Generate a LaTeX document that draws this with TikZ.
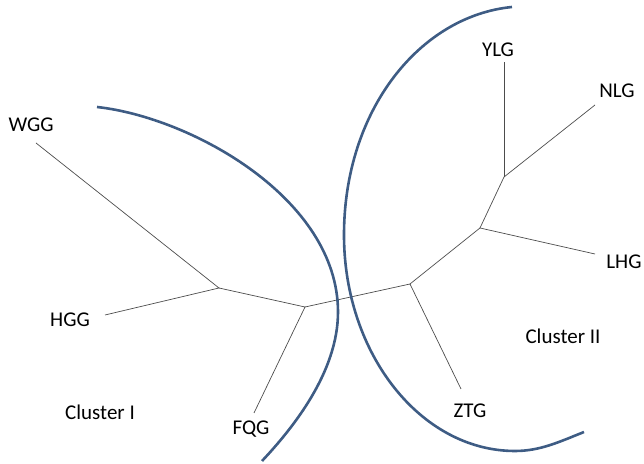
\documentclass[tikz,border=0pt]{standalone}
\usepackage{fontspec}
\setmainfont{Carlito}
\usepackage{xcolor}
\usetikzlibrary{positioning}
\definecolor{arcblue}{RGB}{62,92,132}
\tikzset{%
	branch/.style  = {draw=black!70, line width=0.35pt},
	cluster/.style = {draw=arcblue, line width=1.3pt},
	leaf/.style    = {anchor=base, inner sep=0pt, font=\fontsize{10.5}{12}\selectfont},
}

\begin{document}
\begin{tikzpicture}[x=0.5pt,y=-0.5pt]
	\useasboundingbox (0,0) rectangle (644,464);
	
	\coordinate (A) at (219,288);
	\coordinate (B) at (305,307);
	\coordinate (E) at (410,284);
	\coordinate (D) at (480,228);
	\coordinate (C) at (504,177);
	
	\foreach \n/\x/\y in {WGG/36/143,HGG/105/315,FQG/254/413,ZTG/461/389,LHG/595/254,NLG/595/105,YLG/504/62} \coordinate (\n-end) at (\x,\y);
	
	\foreach \n/\x/\y in {WGG/31/132,HGG/70/327,FQG/251/435,ZTG/470/418,LHG/624/269,NLG/617/98,YLG/498/57} \node[leaf] (\n) at (\x,\y) {\n};
	
	\draw[branch] (WGG-end) -- (A) -- (HGG-end);
	\draw[branch] (A) -- (B) -- (FQG-end);
	\draw[branch] (B) -- (E) -- (ZTG-end);
	\draw[branch] (E) -- (D) -- (LHG-end);
	\draw[branch] (D) -- (C) -- (NLG-end);
	\draw[branch] (C) -- (YLG-end);
	
	% cluster arcs
	\draw[cluster] (97,107) .. controls (192,117.5) and (338,199) .. (338,312) .. controls (338,372) and (293,428) .. (262,461);
	\draw[cluster] (512,7) .. controls (420,16) and (344,110) .. (344,235) .. controls (344,354) and (421,451) .. (515,451) .. controls (540,451) and (559,442) .. (584,432);
	
	\node[leaf] (clusterI) at (100,420) {Cluster I};
	\node[leaf] (clusterII) at (563,344) {Cluster II};
\end{tikzpicture}
\end{document}
